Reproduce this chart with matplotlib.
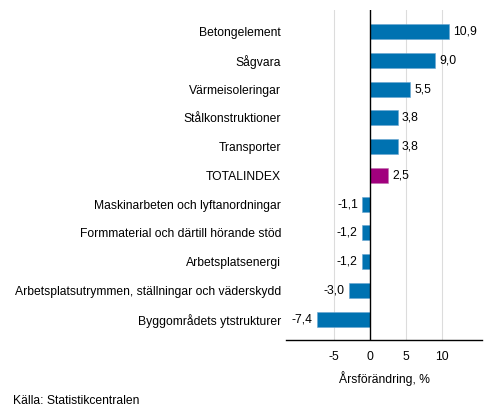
import matplotlib.pyplot as plt
import numpy as np

plt.rcParams['font.family'] = ['Liberation Sans', 'DejaVu Sans']

categories = ['Betongelement', 'Sågvara', 'Värmeisoleringar', 'Stålkonstruktioner',
              'Transporter', 'TOTALINDEX', 'Maskinarbeten och lyftanordningar',
              'Formmaterial och därtill hörande stöd', 'Arbetsplatsenergi',
              'Arbetsplatsutrymmen, ställningar och väderskydd',
              'Byggområdets ytstrukturer']
values = [10.9, 9.0, 5.5, 3.8, 3.8, 2.5, -1.1, -1.2, -1.2, -3.0, -7.4]
xticks = [-5, 0, 5, 10]

blue = '#0072b1'
purple = '#a1007d'
colors = [purple if c == 'TOTALINDEX' else blue for c in categories]
fs = 8.75

fig = plt.figure(figsize=(4.93, 4.16), dpi=100)
ax = fig.add_axes([286/493, 1 - 340/416, (482-286)/493, (340-10)/416])

n = len(categories)
ypos = np.arange(n)[::-1]
ax.barh(ypos, values, height=0.52, color=colors, edgecolor='#6aa6d0', linewidth=0.4, zorder=3)
for b, c in zip(ax.patches, colors):
    if c == purple:
        b.set_edgecolor('#c070b0')

for y, v in zip(ypos, values):
    lab = f'{v:.1f}'.replace('.', ',')
    if v >= 0:
        ax.text(v + 0.6, y, lab, va='center', ha='left', fontsize=fs)
    else:
        ax.text(v - 0.6, y, lab, va='center', ha='right', fontsize=fs)

ax.set_xlim(-11.7, 15.5)
ax.set_ylim(-0.72, n - 1 + 0.75)
ax.set_yticks(ypos)
ax.set_yticklabels(categories, fontsize=fs)
ax.set_xticks(xticks)
ax.set_xticklabels([str(t) for t in xticks], fontsize=fs)
ax.tick_params(length=0, pad=8)
ax.tick_params(axis='y', pad=3.5)

for t in xticks:
    if t != 0:
        ax.axvline(t, color='#dcdcdc', linewidth=0.8, zorder=1)
ax.axvline(0, color='black', linewidth=1, zorder=4)

for s in ['top', 'right', 'left']:
    ax.spines[s].set_visible(False)
ax.spines['bottom'].set_linewidth(1)

ax.set_xlabel('Årsförändring, %', fontsize=fs, labelpad=6)
fig.text(13/493, 1 - 401/416, 'Källa: Statistikcentralen', fontsize=fs, va='center')

fig.savefig('out.png', dpi=100)
